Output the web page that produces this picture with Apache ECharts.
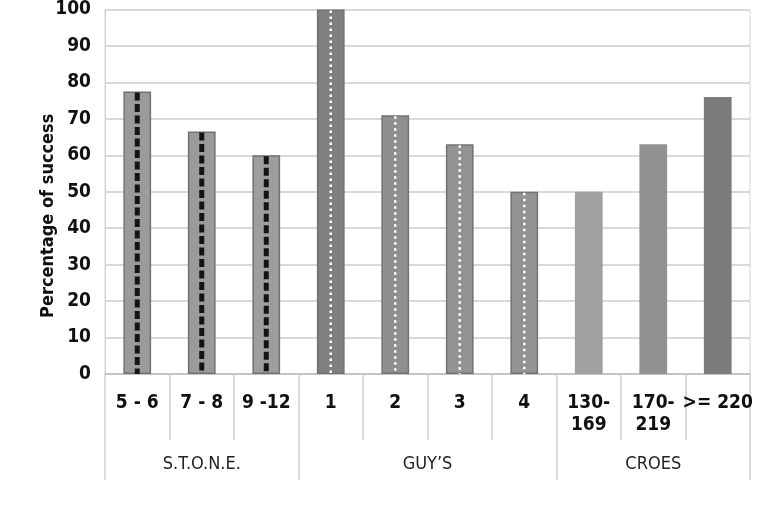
<!DOCTYPE html>
<html>
<head>
<meta charset="utf-8">
<script src="https://cdn.jsdelivr.net/npm/echarts@6/dist/echarts.min.js"></script>
<style>html,body{margin:0;padding:0;background:#fff}#c{width:779px;height:520px}</style>
</head>
<body>
<div id="c"></div>
<script>
var categories = ['5 - 6', '7 - 8', '9 -12', '1', '2', '3', '4', '130-\n169', '170-\n219', '>= 220'];
var values = [77.5, 66.5, 60, 100, 71, 63, 50, 50, 63, 76];
var groupNames = ['S.T.O.N.E.', 'GUY\u2019S', 'CROES'];
var groupSizes = [3, 4, 3];
var yTicks = [0, 10, 20, 30, 40, 50, 60, 70, 80, 90, 100];

// styling (not data)
var barFill = ['#9b9b9b', '#9b9b9b', '#9e9e9e', '#7f7f7f', '#8f8f8f', '#939393', '#939393', '#a0a0a0', '#919191', '#7c7c7c'];
var centreStyle = ['stone', 'stone', 'stone', 'guy', 'guy', 'guy', 'guy', null, null, null];

var groupBounds = [0];
groupSizes.forEach(function (s) { groupBounds.push(groupBounds[groupBounds.length - 1] + s); });
var groupCentres = groupSizes.map(function (s, i) { return groupBounds[i] + s / 2; });

var FONT = "'Liberation Sans Narrow', 'DejaVu Sans Condensed', 'Roboto', sans-serif";

var chart = echarts.init(document.getElementById('c'), null, { renderer: 'canvas' });

chart.setOption({
  animation: false,
  backgroundColor: '#fff',
  grid: { left: 105, right: 29, top: 8, bottom: 146, show: true, borderColor: '#d6d6d6', borderWidth: 1, backgroundColor: 'transparent' },
  xAxis: [
    {
      type: 'category',
      data: categories,
      position: 'bottom',
      axisLine: { show: true, lineStyle: { color: '#bdbdbd', width: 1.5 } },
      axisTick: { show: true, length: 66, lineStyle: { color: '#d0d0d0', width: 1.5 } },
      axisLabel: {
        color: '#111', fontFamily: FONT, fontWeight: 'bold', fontSize: 19, lineHeight: 22,
        margin: 18, interval: 0
      }
    },
    {
      type: 'value',
      min: 0, max: categories.length,
      position: 'bottom',
      axisLine: { show: false },
      splitLine: { show: false },
      axisTick: { show: true, customValues: groupBounds, length: 106, lineStyle: { color: '#d0d0d0', width: 1.5 } },
      axisLabel: {
        customValues: groupCentres,
        color: '#222', fontFamily: FONT, fontSize: 18, margin: 81,
        formatter: function (v) {
          var i = groupCentres.indexOf(v);
          return i >= 0 ? groupNames[i] : '';
        }
      }
    }
  ],
  yAxis: {
    type: 'value',
    min: 0, max: 100, interval: 10,
    name: 'Percentage of success',
    nameLocation: 'middle',
    nameGap: 48,
    nameMoveOverlap: false,
    nameTextStyle: { color: '#111', fontFamily: FONT, fontWeight: 'bold', fontSize: 18, padding: [0, 48, 0, 0] },
    axisLine: { show: true, lineStyle: { color: '#cfcfcf', width: 1 } },
    axisTick: { show: false },
    splitLine: { show: true, lineStyle: { color: '#d9d9d9', width: 2 } },
    axisLabel: {
      color: '#111', fontFamily: FONT, fontWeight: 'bold', fontSize: 19, margin: 14,
      formatter: function (v) { return yTicks.indexOf(v) >= 0 ? String(v) : ''; }
    }
  },
  series: [
    {
      type: 'bar',
      xAxisIndex: 0,
      barWidth: '43%',
      data: values.map(function (v, i) {
        var c = centreStyle[i];
        return {
          value: v,
          itemStyle: {
            color: barFill[i],
            borderColor: c ? '#727272' : barFill[i],
            borderWidth: c ? 1.5 : 0
          }
        };
      })
    },
    {
      type: 'custom',
      xAxisIndex: 0,
      data: values.map(function (v, i) { return [i, v]; }),
      z: 5,
      renderItem: function (params, api) {
        var i = api.value(0);
        var kind = centreStyle[i];
        if (!kind) return null;
        var top = api.coord([i, api.value(1)]);
        var bot = api.coord([i, 0]);
        var style = kind === 'stone'
          ? { stroke: '#141414', lineWidth: 5, lineDash: [8, 3.5], lineCap: 'butt' }
          : { stroke: '#ffffff', lineWidth: 2.5, lineDash: [2.5, 3.5], lineCap: 'butt' };
        return {
          type: 'line',
          shape: { x1: top[0], y1: top[1] + 1, x2: bot[0], y2: bot[1] },
          style: style
        };
      }
    }
  ]
});
</script>
</body>
</html>
